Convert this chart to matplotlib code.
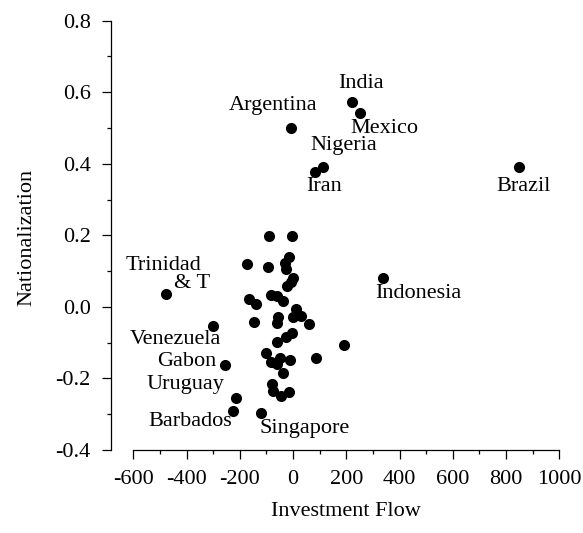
"""
Nationalization vs investment flow, scatter with country labels
"""
import matplotlib.pyplot as plt
from matplotlib.ticker import MultipleLocator

plt.rcParams['font.family'] = ['Liberation Serif', 'DejaVu Serif']

# labelled countries
countries = ["India", "Mexico", "Argentina", "Nigeria", "Iran", "Brazil",
             "Indonesia", "Trinidad & T", "Venezuela", "Gabon", "Uruguay",
             "Barbados", "Singapore"]
country_flow = [221, 252, -8, 111, 82, 847, 339, -478, -300, -256, -214,
                -227, -120]
country_nat = [0.574, 0.541, 0.501, 0.392, 0.378, 0.390, 0.082, 0.035,
               -0.053, -0.162, -0.254, -0.290, -0.297]

# unlabelled countries (the central cluster)
other_flow = [-90, -3, -174, -93, -14, -30, -27, 1, -22, -9, -84, -61, -39,
              -164, -139, -147, -55, -59, 10, 29, 1, 61, -5, -27, -59, 191,
              85, -102, -84, -49, -12, -61, -37, -80, -74, -46, -16]
other_nat = [0.199, 0.199, 0.120, 0.112, 0.140, 0.124, 0.105, 0.082, 0.058,
             0.070, 0.033, 0.030, 0.017, 0.021, 0.008, -0.041, -0.027, -0.046,
             -0.007, -0.025, -0.029, -0.048, -0.074, -0.083, -0.097, -0.107,
             -0.144, -0.130, -0.153, -0.144, -0.148, -0.160, -0.184, -0.216,
             -0.234, -0.249, -0.237]

x_ticks = [-600, -400, -200, 0, 200, 400, 600, 800, 1000]
y_ticks = [-0.4, -0.2, 0.0, 0.2, 0.4, 0.6, 0.8]
y_tick_labels = ["-0.4", "-0.2", "0.0", "0.2", "0.4", "0.6", "0.8"]

# where each label text sits (centre, data coords)
label_pos = {
    "India": [("India", 255, 0.625)],
    "Mexico": [("Mexico", 342, 0.499)],
    "Argentina": [("Argentina", -74, 0.562)],
    "Nigeria": [("Nigeria", 189, 0.450)],
    "Iran": [("Iran", 115, 0.337)],
    "Brazil": [("Brazil", 865, 0.336)],
    "Indonesia": [("Indonesia", 472, 0.037)],
    "Trinidad & T": [("Trinidad", -487, 0.117), ("& T", -381, 0.066)],
    "Venezuela": [("Venezuela", -443, -0.090)],
    "Gabon": [("Gabon", -399, -0.152)],
    "Uruguay": [("Uruguay", -406, -0.218)],
    "Barbados": [("Barbados", -387, -0.319)],
    "Singapore": [("Singapore", 43, -0.339)],
}

fs = 16

fig = plt.figure(figsize=(5.83, 5.33), dpi=100)
ax = fig.add_axes([0.1904, 0.1557, 0.7689, 0.8055])

ax.scatter(other_flow, other_nat, s=64, color="black", linewidths=0,
           clip_on=False, zorder=3)
ax.scatter(country_flow, country_nat, s=64, color="black", linewidths=0,
           clip_on=False, zorder=3)

for name in countries:
    for text, tx, ty in label_pos[name]:
        ax.text(tx, ty, text, fontsize=fs, ha="center", va="center")

ax.set_xlim(-684, 1000)
ax.set_ylim(-0.4, 0.8)

# detached axes look
ax.spines["top"].set_visible(False)
ax.spines["right"].set_visible(False)
ax.spines["bottom"].set_bounds(-600, 1000)
ax.spines["left"].set_bounds(-0.4, 0.8)
for sp in ("bottom", "left"):
    ax.spines[sp].set_linewidth(0.9)

ax.set_xticks(x_ticks)
ax.set_xticklabels([str(v) for v in x_ticks])
ax.set_yticks(y_ticks)
ax.set_yticklabels(y_tick_labels)
ax.xaxis.set_minor_locator(MultipleLocator(100))
ax.yaxis.set_minor_locator(MultipleLocator(0.1))
ax.tick_params(which="major", length=6.5, width=0.9, labelsize=fs, pad=8)
ax.tick_params(which="minor", length=3, width=0.9)

fig.text(346 / 583, 1 - 512 / 533, "Investment Flow", fontsize=fs,
         ha="center", va="center")
fig.text(26.7 / 583, 1 - 237.5 / 533, "Nationalization", fontsize=fs,
         ha="center", va="center", rotation=90)

fig.savefig("out.png", dpi=100)
